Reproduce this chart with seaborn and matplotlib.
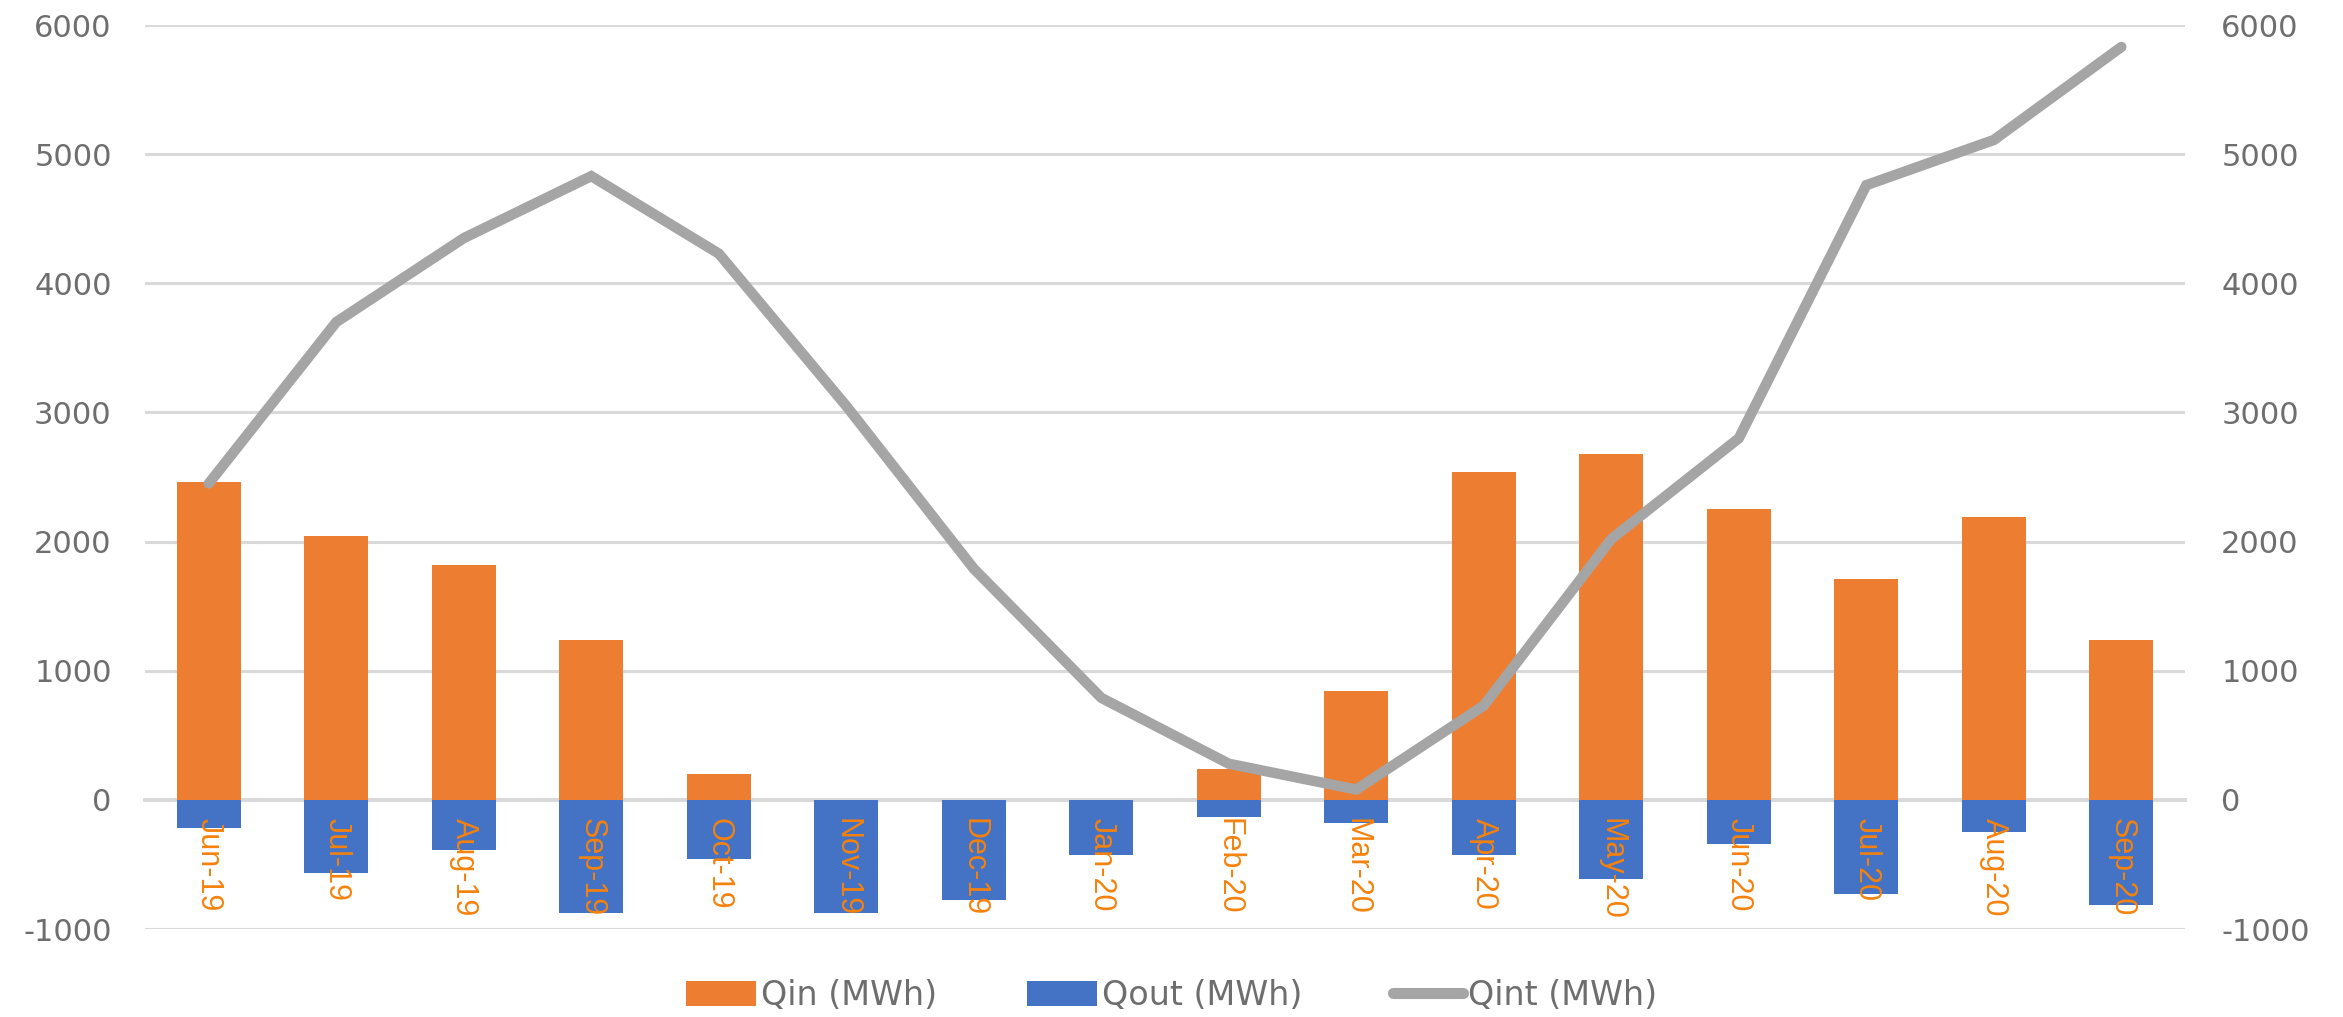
import matplotlib
matplotlib.use("Agg")
import matplotlib.pyplot as plt
from matplotlib.patches import Patch
from matplotlib.lines import Line2D
import numpy as np
import pandas as pd
import seaborn as sns

# Monthly energy balance
months = ["Jun-19", "Jul-19", "Aug-19", "Sep-19", "Oct-19", "Nov-19", "Dec-19", "Jan-20",
          "Feb-20", "Mar-20", "Apr-20", "May-20", "Jun-20", "Jul-20", "Aug-20", "Sep-20"]
q_in = [2460, 2040, 1820, 1240, 200, 0, 0, 0, 240, 840, 2540, 2680, 2250, 1710, 2190, 1235]
q_out = [-220, -565, -390, -875, -455, -875, -775, -430, -130, -180, -430, -615, -340, -725, -245, -815]
q_int = [2450, 3700, 4350, 4830, 4230, 3050, 1790, 790, 280, 80, 730, 2020, 2800, 4760, 5110, 5830]
y_ticks = [-1000, 0, 1000, 2000, 3000, 4000, 5000, 6000]

df = pd.DataFrame({"month": months, "Qin": q_in, "Qout": q_out, "Qint": q_int})
df["pos"] = np.arange(len(df))

ORANGE = "#ED7D31"
BLUE = "#4472C4"
GRAY = "#A5A5A5"
GRID = "#D9D9D9"
TEXT = "#6E6E6E"
LABEL = "#F5820D"

sns.set_theme(style="white")
plt.rcParams["font.family"] = ["DejaVu Sans"]

fig = plt.figure(figsize=(23.43, 10.17), dpi=100)
rect = [0.0619, 0.0865, 0.8707, 0.8889]
ax = fig.add_axes(rect)

sns.barplot(data=df, x="month", y="Qin", color=ORANGE, width=0.5, ax=ax,
            saturation=1, edgecolor="none", zorder=2)
sns.barplot(data=df, x="month", y="Qout", color=BLUE, width=0.5, ax=ax,
            saturation=1, edgecolor="none", zorder=2)

ax.set_ylim(-1000, 6000)
ax.set_xlim(-0.5, len(months) - 0.5)
ax.set_yticks(y_ticks)
ax.set_yticklabels([str(v) for v in y_ticks])
ax.yaxis.grid(True, color=GRID, linewidth=2.2, zorder=0)
ax.set_axisbelow(True)
ax.set_xlabel("")
ax.set_ylabel("")
for s in ["top", "right", "left"]:
    ax.spines[s].set_visible(False)
ax.spines["bottom"].set_position(("data", 0))
ax.spines["bottom"].set_color(GRID)
ax.spines["bottom"].set_linewidth(2.8)
ax.spines["bottom"].set_zorder(1)

# boundary ticks between categories on the primary axis
ax.set_xticks(np.arange(len(months) + 1) - 0.5)
ax.set_xticklabels([""] * (len(months) + 1))
ax.tick_params(axis="x", which="major", length=11, width=2.8, color=GRID, direction="out")
ax.tick_params(axis="y", length=0, pad=24, labelsize=22, labelcolor=TEXT)

# overlay axes: storage level, right-hand scale and month labels above the bars
ax2 = fig.add_axes(rect)
ax2.patch.set_visible(False)
sns.lineplot(data=df, x="pos", y="Qint", color=GRAY, linewidth=7.5, ax=ax2,
             solid_capstyle="round", solid_joinstyle="miter", zorder=3)
ax2.set_ylim(-1000, 6000)
ax2.set_xlim(-0.5, len(months) - 0.5)
ax2.yaxis.tick_right()
ax2.set_yticks(y_ticks)
ax2.set_yticklabels([str(v) for v in y_ticks])
ax2.set_ylabel("")
ax2.set_xlabel("")
for s in ax2.spines.values():
    s.set_visible(False)
ax2.tick_params(axis="y", length=0, pad=26, labelsize=22, labelcolor=TEXT)
ax2.grid(False)

ax2.spines["bottom"].set_position(("data", 0))
ax2.set_xticks(df["pos"])
ax2.set_xticklabels(months, rotation=-90, color=LABEL, fontsize=22,
                    family=["Liberation Sans", "DejaVu Sans"], va="top", ha="center")
ax2.tick_params(axis="x", length=0, pad=13)

handles = [
    Patch(facecolor=ORANGE, edgecolor="none", label="Qin (MWh)"),
    Patch(facecolor=BLUE, edgecolor="none", label="Qout (MWh)"),
    Line2D([0], [0], color=GRAY, linewidth=8, solid_capstyle="round", label="Qint (MWh)"),
]
fig.legend(handles=handles, loc="center", bbox_to_anchor=(0.5, 0.021), ncol=3,
           frameon=False, fontsize=24, labelcolor=TEXT, handlelength=2.1,
           handleheight=0.8, handletextpad=0.15, columnspacing=2.7,
           borderpad=0.1)

fig.savefig("out.png", dpi=100, facecolor="white")
